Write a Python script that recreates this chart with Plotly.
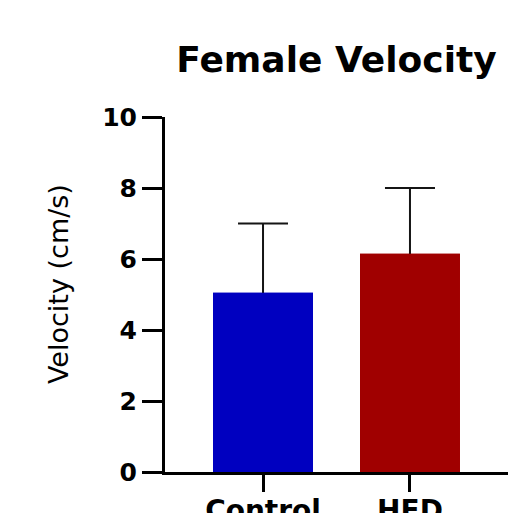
import plotly.graph_objects as go

# Group means and standard deviations (cm/s)
groups = ["Control", "HFD"]
mean_velocity = [5.05, 6.15]
sd_velocity = [1.95, 1.85]
bar_colors = ["#0000C0", "#A00000"]

y_ticks = [0, 2, 4, 6, 8, 10]

fig = go.Figure()
# Bars with symmetric SD whiskers; the lower half is hidden by the opaque
# copy of the bars drawn on top, leaving only the upward whisker visible.
fig.add_trace(go.Bar(
    x=groups,
    y=mean_velocity,
    width=0.68,
    marker=dict(color=bar_colors, line=dict(width=0)),
    error_y=dict(
        type="data",
        array=sd_velocity,
        color="#151515",
        thickness=2,
        width=25,
    ),
    showlegend=False,
    hoverinfo="skip",
))
fig.add_trace(go.Bar(
    x=groups,
    y=mean_velocity,
    width=0.68,
    marker=dict(color=bar_colors, line=dict(width=0)),
    showlegend=False,
))

tick_font_y = dict(family="DejaVu Sans", size=25, color="black", weight="bold")
tick_font_x = dict(family="DejaVu Sans", size=28, color="black", weight="bold")

fig.update_layout(
    width=520,
    height=513,
    barmode="overlay",
    margin=dict(l=165, r=12, t=117, b=41, autoexpand=False),
    paper_bgcolor="white",
    plot_bgcolor="white",
    title=dict(
        text="Female Velocity",
        font=dict(family="DejaVu Sans", size=36, color="black", weight="bold"),
        x=0.5,
        xref="paper",
        xanchor="center",
        y=1 - 59 / 513,
        yref="container",
        yanchor="middle",
    ),
    xaxis=dict(
        range=[-0.667, 1.667],
        showline=True,
        linecolor="black",
        linewidth=3,
        ticks="outside",
        ticklen=17,
        tickwidth=3,
        tickcolor="black",
        tickfont=tick_font_x,
        ticklabelstandoff=-6,
        showgrid=False,
        zeroline=False,
        automargin=False,
    ),
    yaxis=dict(
        range=[0, 10],
        tickvals=y_ticks,
        showline=True,
        linecolor="black",
        linewidth=3,
        ticks="outside",
        ticklen=20,
        tickwidth=3,
        tickcolor="black",
        tickfont=tick_font_y,
        showgrid=False,
        zeroline=False,
        automargin=False,
    ),
    annotations=[dict(
        text="Velocity (cm/s)",
        textangle=-90,
        xref="paper",
        yref="paper",
        x=(58 - 165) / 343,
        y=(472 - 284) / 355,
        xanchor="center",
        yanchor="middle",
        showarrow=False,
        font=dict(family="DejaVu Sans", size=27, color="black"),
    )],
)

fig.write_html("out.html")
